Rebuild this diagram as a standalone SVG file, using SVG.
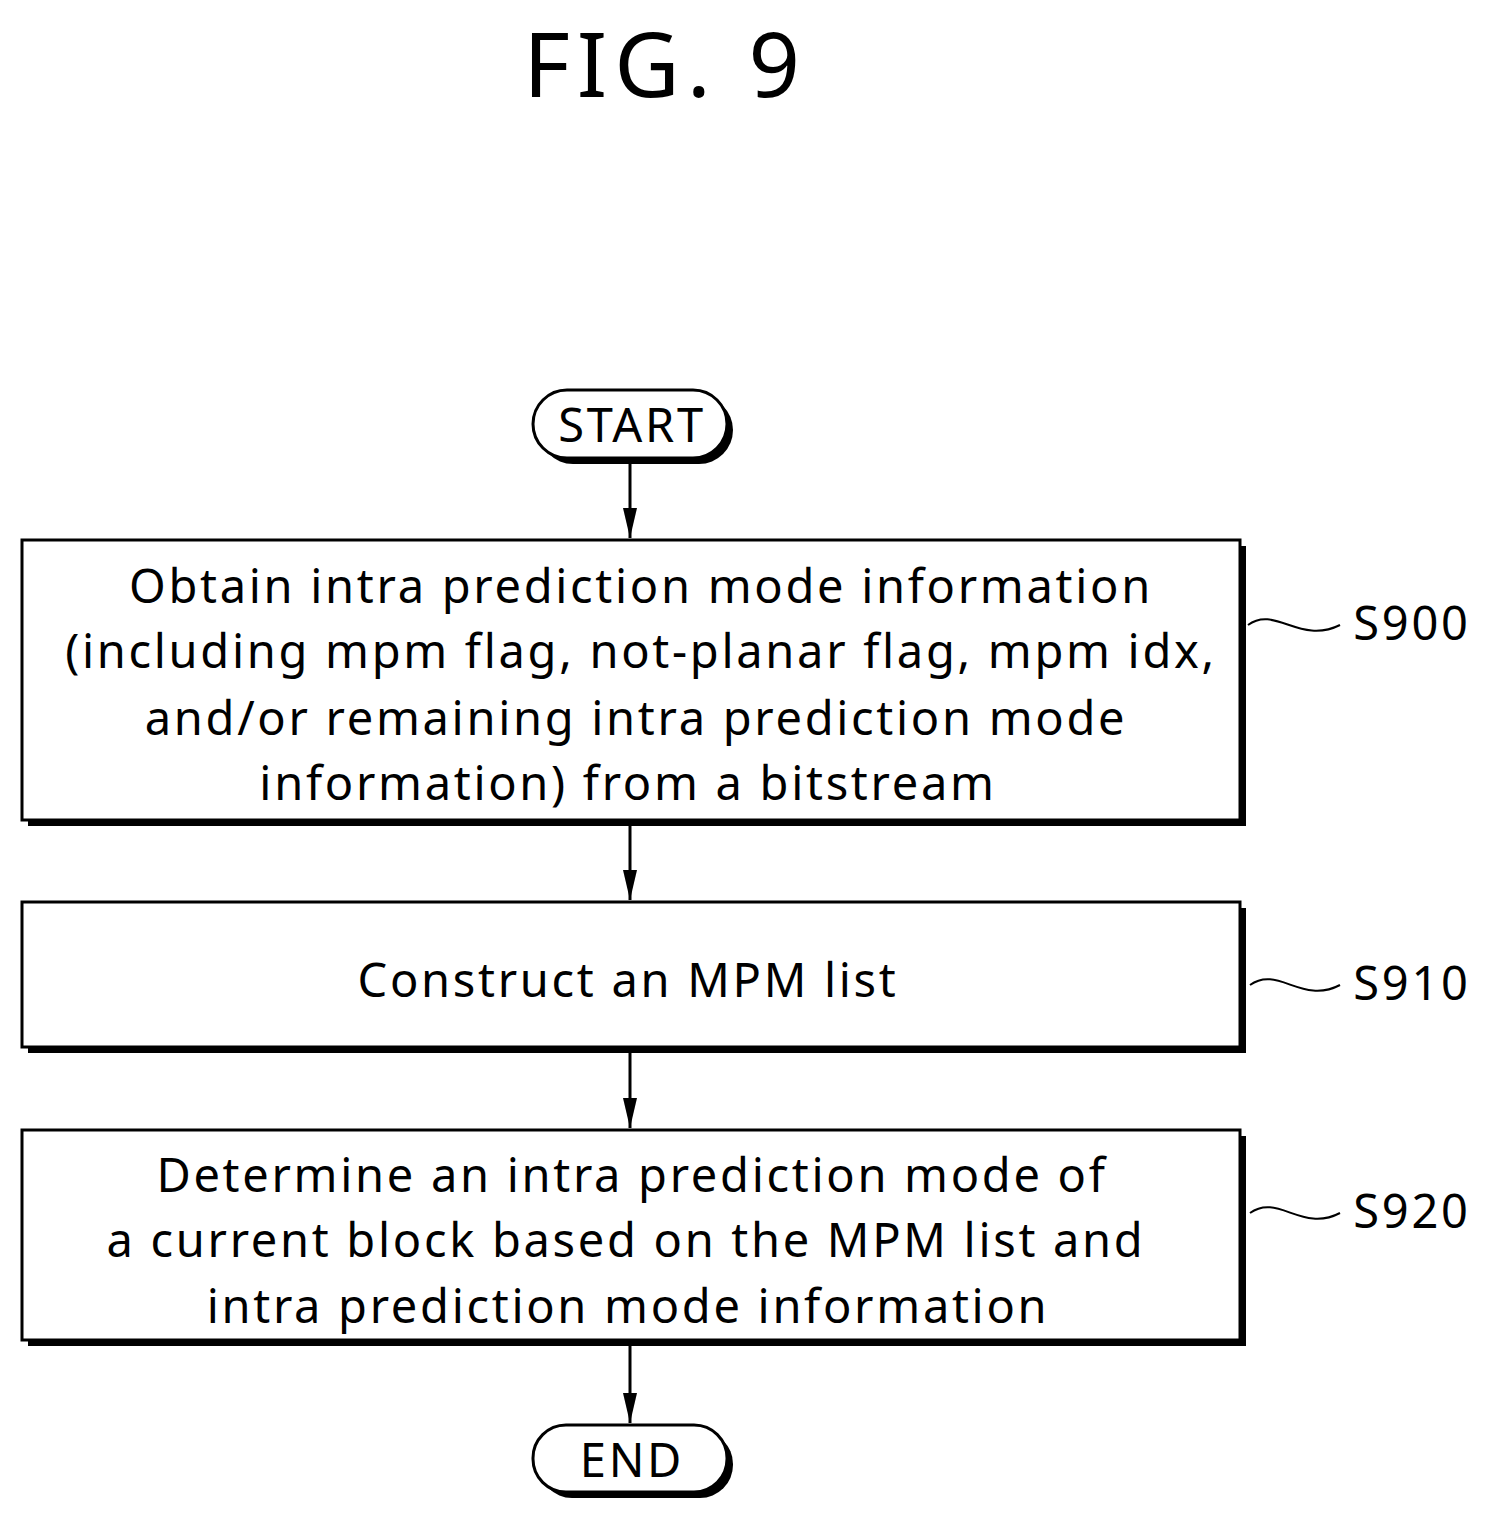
<svg xmlns="http://www.w3.org/2000/svg" width="1490" height="1524" viewBox="0 0 1490 1524">
<defs>
<style>
.t{font-family:"Noto Sans","DejaVu Sans",sans-serif;font-size:47px;fill:#000;text-anchor:middle;letter-spacing:2.7px}
.box{fill:#fff;stroke:#000;stroke-width:3}
.sh{fill:#000;stroke:none}
.ln{stroke:#000;stroke-width:3;fill:none}
</style>
<marker id="ar" markerWidth="14" markerHeight="30" refX="7" refY="30" orient="0" markerUnits="userSpaceOnUse">
<path d="M0,0 L14,0 L7,30 Z" fill="#000"/>
</marker>
</defs>
<rect width="1490" height="1524" fill="#fff"/>
<text x="665" y="97" class="t" style="font-size:90px;letter-spacing:7px">FIG. 9</text>
<g id="start">
<rect x="539" y="396" width="194" height="68" rx="34" class="sh"/>
<rect x="533" y="390" width="194" height="68" rx="34" class="box"/>
<text x="632" y="442" class="t">START</text>
</g>
<g id="s900">
<rect x="28" y="546" width="1218" height="280" class="sh"/>
<rect x="22" y="540" width="1218" height="280" class="box"/>
<text class="t"><tspan x="641" y="603">Obtain intra prediction mode information</tspan><tspan x="641" y="668">(including mpm flag, not-planar flag, mpm idx,</tspan><tspan x="636" y="735">and/or remaining intra prediction mode</tspan><tspan x="628" y="800">information) from a bitstream</tspan></text>
</g>
<g id="s910">
<rect x="28" y="908" width="1218" height="145" class="sh"/>
<rect x="22" y="902" width="1218" height="145" class="box"/>
<text x="628" y="997" class="t">Construct an MPM list</text>
</g>
<g id="s920">
<rect x="28" y="1136" width="1218" height="210" class="sh"/>
<rect x="22" y="1130" width="1218" height="210" class="box"/>
<text class="t"><tspan x="632" y="1192">Determine an intra prediction mode of</tspan><tspan x="626" y="1257">a current block based on the MPM list and</tspan><tspan x="628" y="1323">intra prediction mode information</tspan></text>
</g>
<g id="end">
<rect x="539" y="1431" width="194" height="67" rx="33" class="sh"/>
<rect x="533" y="1425" width="194" height="67" rx="33" class="box"/>
<text x="632" y="1477" class="t">END</text>
</g>
<g id="labels">
<text x="1412" y="640" class="t">S900</text>
<text x="1412" y="1000" class="t">S910</text>
<text x="1412" y="1228" class="t">S920</text>
<path class="ln" style="stroke-width:2" d="M1248,625 C1275,605 1300,645 1340,625"/>
<path class="ln" style="stroke-width:2" d="M1250,985 C1278,965 1302,1005 1340,985"/>
<path class="ln" style="stroke-width:2" d="M1250,1213 C1278,1193 1302,1233 1340,1213"/>
</g>
<g id="connectors">
<line x1="630" y1="464" x2="630" y2="538" class="ln" marker-end="url(#ar)"/>
<line x1="630" y1="826" x2="630" y2="900" class="ln" marker-end="url(#ar)"/>
<line x1="630" y1="1053" x2="630" y2="1128" class="ln" marker-end="url(#ar)"/>
<line x1="630" y1="1346" x2="630" y2="1423" class="ln" marker-end="url(#ar)"/>
</g>
</svg>
